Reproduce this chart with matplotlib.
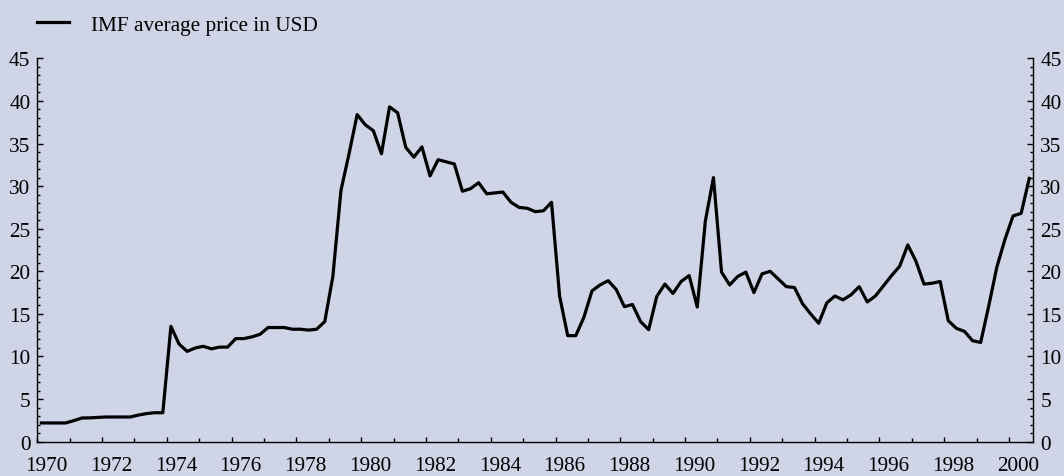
import numpy as np
import matplotlib.pyplot as plt
from matplotlib.ticker import MultipleLocator
import matplotlib.transforms as mtransforms

# IMF average crude price, quarterly averages in USD, 1970Q1 .. 2000Q3
price = [2.2, 2.2, 2.2, 2.2, 2.47, 2.78, 2.8, 2.85,
         2.9, 2.9, 2.9, 2.9, 3.13, 3.3, 3.4, 3.4,
         13.54, 11.47, 10.6, 11.0, 11.2, 10.9, 11.1, 11.1,
         12.1, 12.1, 12.3, 12.6, 13.4, 13.4, 13.4, 13.2,
         13.2, 13.1, 13.2, 14.1, 19.4, 29.5, 33.8, 38.4,
         37.2, 36.5, 33.8, 39.3, 38.6, 34.55, 33.4, 34.6,
         31.2, 33.1, 32.85, 32.6, 29.4, 29.7, 30.4, 29.1,
         29.2, 29.3, 28.1, 27.5, 27.4, 27.0, 27.1, 28.1,
         17.1, 12.45, 12.45, 14.6, 17.7, 18.4, 18.9, 17.85,
         15.85, 16.1, 14.1, 13.15, 17.05, 18.5, 17.4, 18.8,
         19.5, 15.8, 25.9, 31.0, 19.9, 18.4, 19.4, 19.9,
         17.5, 19.7, 20.0, 19.1, 18.2, 18.1, 16.2, 15.0,
         13.9, 16.3, 17.1, 16.65, 17.25, 18.2, 16.4, 17.1,
         18.3, 19.5, 20.6, 23.1, 21.2, 18.5, 18.6, 18.8,
         14.2, 13.3, 12.95, 11.85, 11.65, 15.95, 20.5, 23.75,
         26.5, 26.8, 30.9]
series_name = 'IMF average price in USD'
year_ticks = list(range(1970, 2001, 2))

bg = '#cfd4e6'
plt.rcParams['font.family'] = ['Liberation Serif', 'DejaVu Serif']

# quarter mid points
t = 1970.125 + 0.25 * np.arange(len(price))

fig = plt.figure(figsize=(10.64, 4.77), dpi=100, facecolor=bg)
ax = fig.add_axes([0.03506, 0.07191, 0.93609, 0.80377])
ax.set_facecolor(bg)

ax.plot(t, price, color='black', lw=2.3, label=series_name)

ax.set_xlim(1970, 2000.75)
ax.set_ylim(0, 45)

ax.spines['top'].set_visible(False)
for s in ['left', 'right', 'bottom']:
    ax.spines[s].set_linewidth(1.0)

ax.set_xticks(year_ticks)
ax.set_xticklabels([str(y) for y in year_ticks])
ax.xaxis.set_minor_locator(MultipleLocator(1))
ax.yaxis.set_major_locator(MultipleLocator(5))
ax.yaxis.set_minor_locator(MultipleLocator(1))

ax.tick_params(axis='both', which='both', direction='in', labelsize=15.3, width=1.0)
ax.tick_params(axis='y', which='both', left=True, right=True, labelleft=True, labelright=True)
ax.tick_params(axis='y', which='major', length=4.5, pad=5)
ax.tick_params(axis='y', which='minor', length=2.4)
ax.tick_params(axis='x', which='major', length=3.5, pad=10)
ax.tick_params(axis='x', which='minor', length=2.6)

# year labels sit a little right of their tick marks
shift = mtransforms.ScaledTranslation(0.09, 0, fig.dpi_scale_trans)
for lab in ax.get_xticklabels():
    lab.set_transform(lab.get_transform() + shift)

fig.legend(loc='upper left', bbox_to_anchor=(0.0345, 0.967), frameon=False,
           fontsize=15.3, handlelength=1.5, handletextpad=1.05,
           borderpad=0, borderaxespad=0)

fig.savefig('out.png', dpi=100, facecolor=bg)
